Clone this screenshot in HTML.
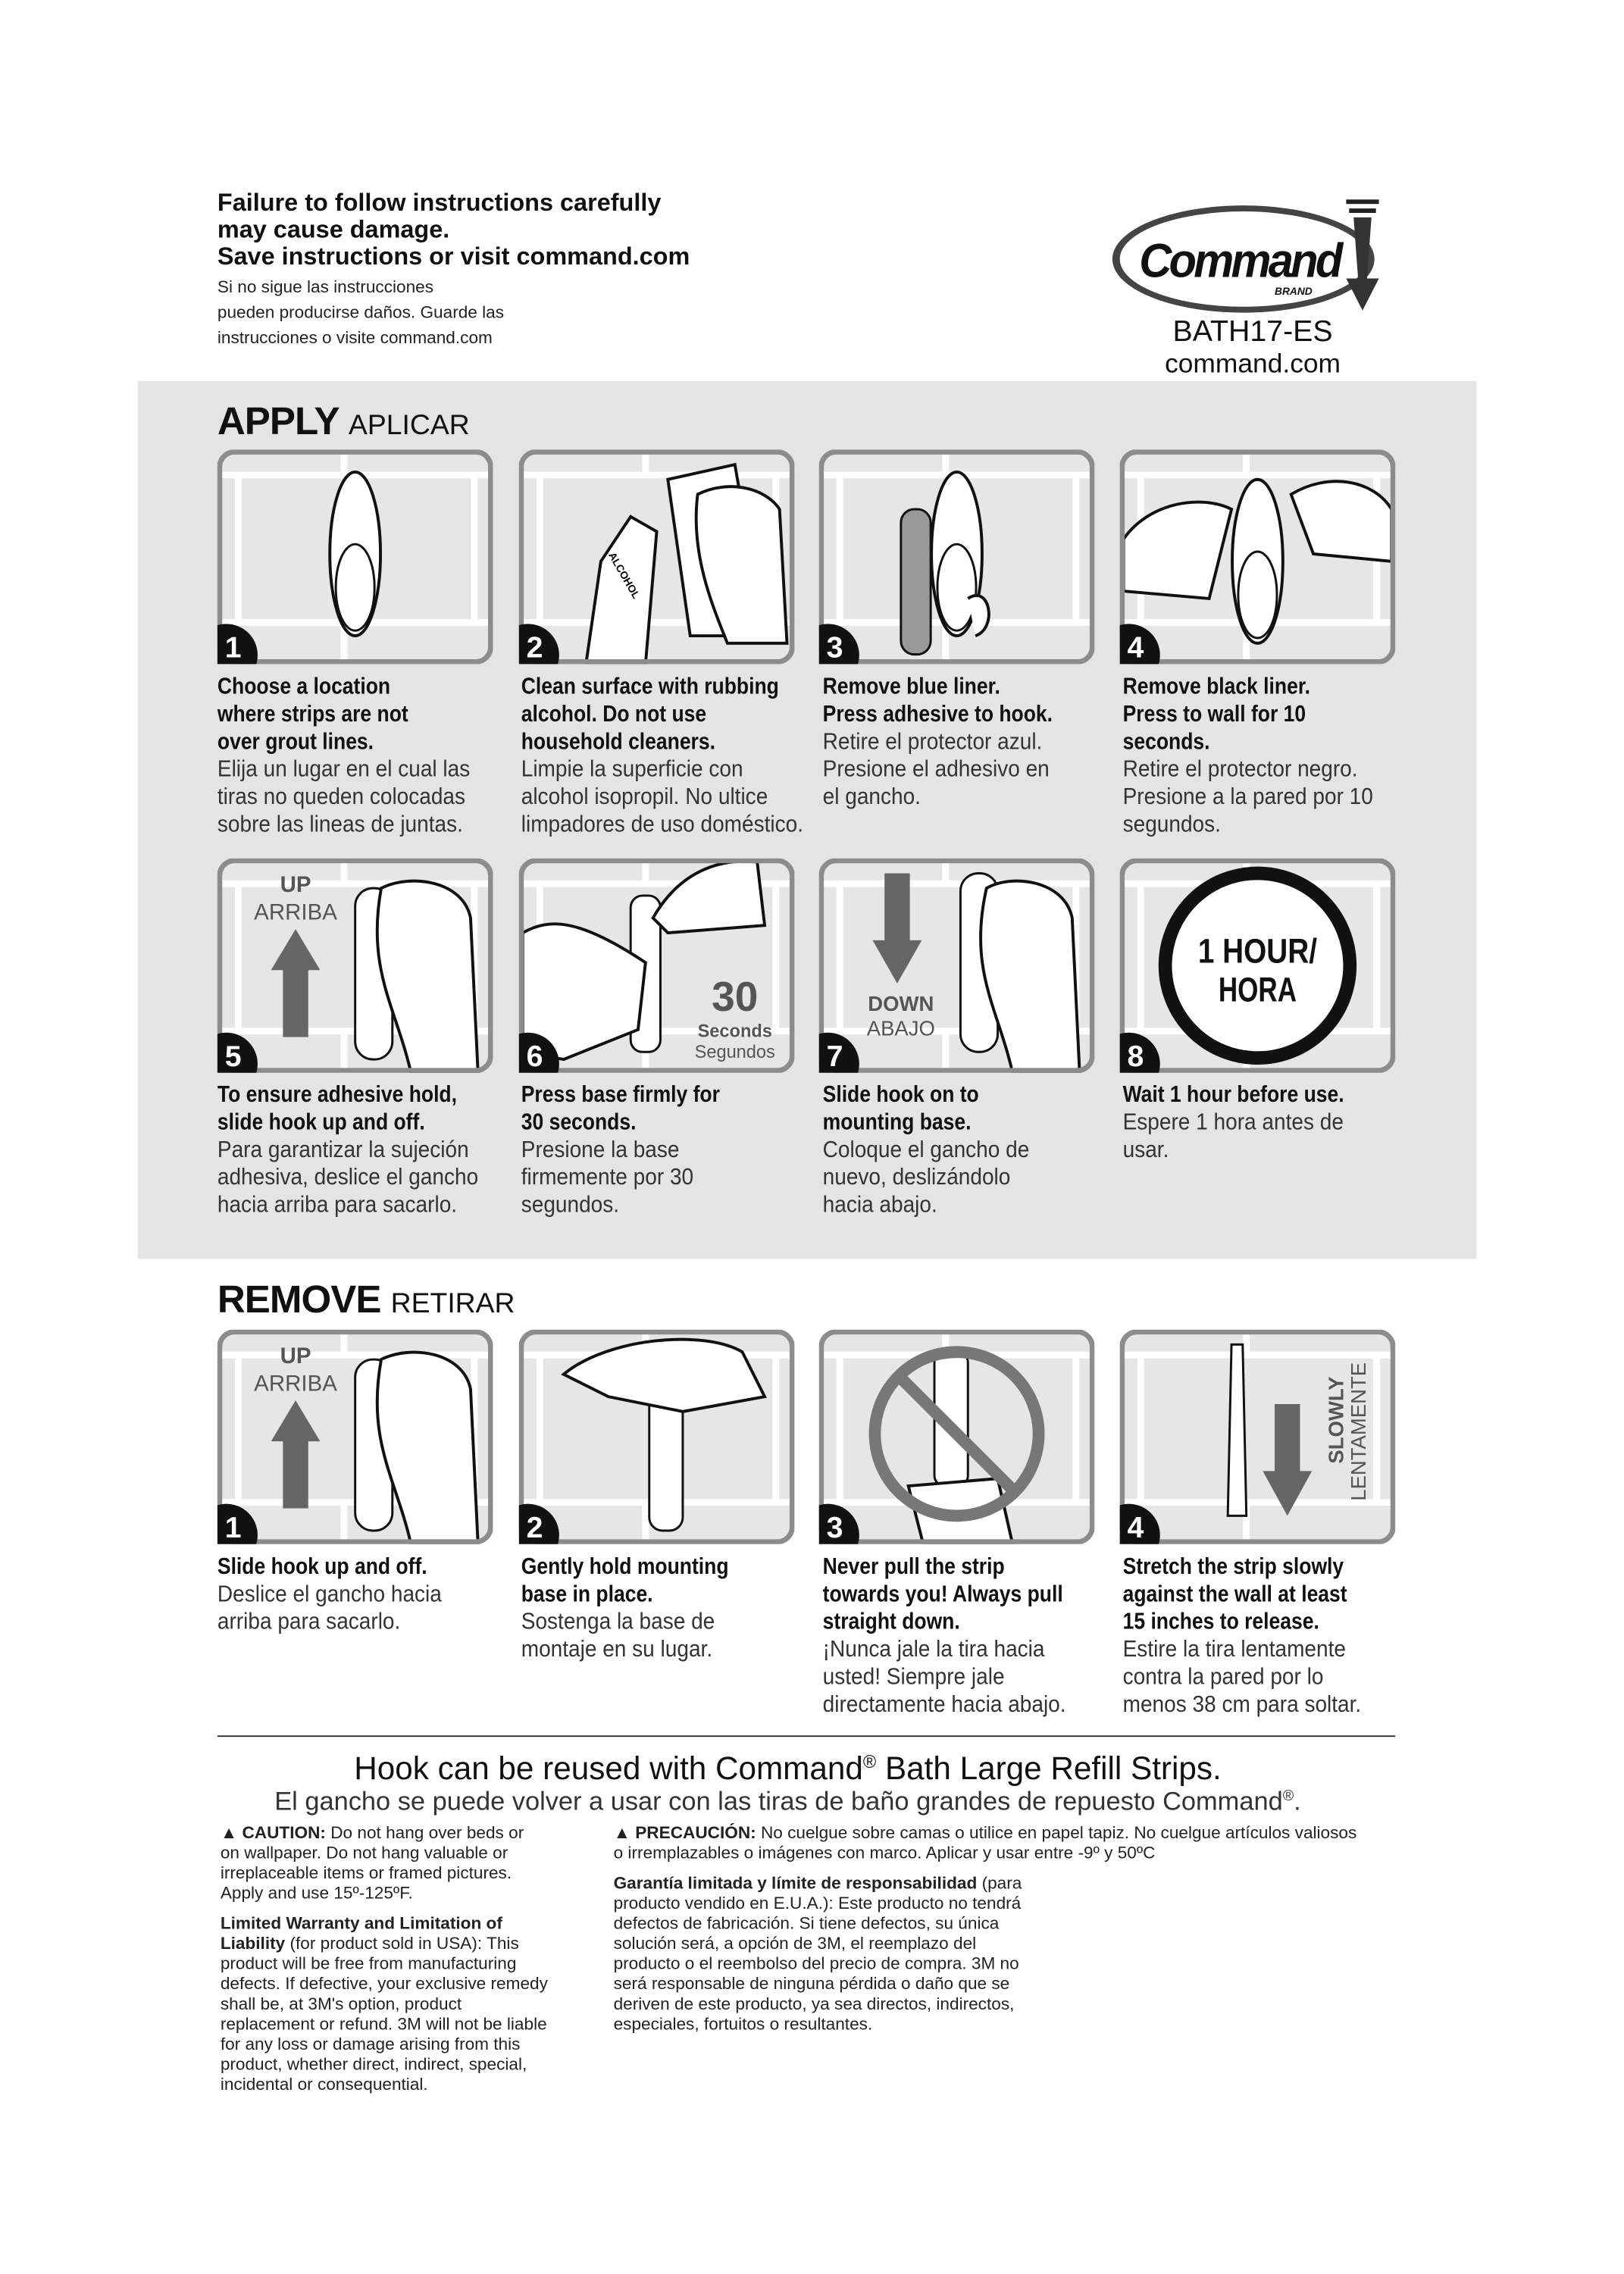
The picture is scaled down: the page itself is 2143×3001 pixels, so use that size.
<!DOCTYPE html>
<html><head><meta charset="utf-8"><style>
*{margin:0;padding:0;box-sizing:border-box}
body{width:2143px;height:3000px;background:#fff;position:relative;overflow:hidden;font-family:"Liberation Sans",sans-serif;color:#111}
#w{position:absolute;left:0;top:0;width:2181px;height:3054px;transform:scale(0.9825);transform-origin:0 0}
.a{position:absolute}
.hb{font-weight:bold;font-size:33px;line-height:36px}
.hs{font-size:23px;line-height:34px;color:#222}
.gray{left:185px;top:512px;width:1798px;height:1179px;background:#e4e4e4}
.h1{font-size:52px;font-weight:bold;letter-spacing:-1px}
.h1 span{font-weight:normal;font-size:38px;letter-spacing:0}
.p{width:370px;height:288px}
.t{width:500px;font-size:31px;line-height:37px;white-space:nowrap}
.t b{display:block;font-weight:bold;color:#111;transform:scaleX(0.87);transform-origin:0 0}
.t i{display:block;font-style:normal;color:#333;transform:scaleX(0.92);transform-origin:0 0}
.c{font-size:23px;line-height:27px;color:#222}
</style></head><body><div id="w">
<div class="a hb" style="left:292px;top:254px">Failure to follow instructions carefully<br>may cause damage.<br>Save instructions or visit command.com</div>
<div class="a hs" style="left:292px;top:368px">Si no sigue las instrucciones<br>pueden producirse daños. Guarde las<br>instrucciones o visite command.com</div>
<svg class="a" style="left:1490px;top:262px" width="380" height="170" viewBox="0 0 380 170">
<ellipse cx="180" cy="86" rx="176" ry="72" fill="#444"/><ellipse cx="180" cy="86" rx="166" ry="64" fill="#fff"/>
<text x="40" y="110" font-family="Liberation Sans" font-weight="bold" font-style="italic" font-size="64" fill="#111" letter-spacing="-4" textLength="270" lengthAdjust="spacingAndGlyphs">Command</text>
<text x="222" y="134" font-family="Liberation Sans" font-weight="bold" font-style="italic" font-size="14" fill="#111">BRAND</text>
<rect x="318" y="6" width="44" height="6" fill="#222"/><rect x="322" y="18" width="36" height="6" fill="#222"/>
<path d="M328 30 L352 30 L346 112 L362 112 L340 155 L318 112 L334 112 Z" fill="#333"/>
</svg>
<div class="a" style="left:1560px;top:424px;width:245px;text-align:center;font-size:40px;line-height:42px;color:#111">BATH17-ES<br><span style="font-size:36px">command.com</span></div>

<div class="a gray"></div>
<div class="a h1" style="left:292px;top:536px">APPLY <span>APLICAR</span></div>
<div class="a h1" style="left:292px;top:1716px">REMOVE <span>RETIRAR</span></div>

<svg width="0" height="0" style="position:absolute"><defs>
<g id="bg"><rect x="3" y="3" width="364" height="282" rx="20" fill="#e6e6e6"/>
<g stroke="#fff" stroke-width="9"><line x1="0" y1="34" x2="370" y2="34"/><line x1="0" y1="232" x2="370" y2="232"/><line x1="170" y1="0" x2="170" y2="34"/><line x1="28" y1="34" x2="28" y2="232"/><line x1="345" y1="34" x2="345" y2="232"/><line x1="170" y1="232" x2="170" y2="288"/></g></g>
<g id="fr"><rect x="3" y="3" width="364" height="282" rx="20" fill="none" stroke="#8c8c8c" stroke-width="7"/></g>
<g id="hook"><ellipse cx="0" cy="0" rx="34" ry="110" fill="#fff" stroke="#111" stroke-width="4"/><ellipse cx="0" cy="45" rx="26" ry="58" fill="none" stroke="#111" stroke-width="3"/></g>
<g id="hand"><path d="M0 0 C40 -20 90 -10 110 20 L120 200 L40 200 C20 150 -10 80 0 0Z" fill="#fff" stroke="#111" stroke-width="4"/></g>
</defs></svg>

<!-- row 1 -->
<svg class="a p" style="left:292px;top:604px"><use href="#bg"/><use href="#hook" x="185" y="140"/><use href="#fr"/><circle cx="12" cy="276" r="42" fill="#111"/><text x="10" y="279" fill="#fff" font-family="Liberation Sans" font-weight="bold" font-size="40">1</text></svg>
<svg class="a p" style="left:697px;top:604px"><use href="#bg"/><path d="M200 40 L290 20 L330 250 L230 250Z" fill="#fff" stroke="#111" stroke-width="4"/><path d="M110 150 L150 90 L185 110 L170 288 L90 288Z" fill="#fff" stroke="#111" stroke-width="4"/><text x="115" y="150" font-family="Liberation Sans" font-weight="bold" font-size="14" transform="rotate(60 125 150)">ALCOHOL</text><use href="#hand" x="240" y="60"/><use href="#fr"/><circle cx="12" cy="276" r="42" fill="#111"/><text x="10" y="279" fill="#fff" font-family="Liberation Sans" font-weight="bold" font-size="40">2</text></svg>
<svg class="a p" style="left:1100px;top:604px"><use href="#bg"/><rect x="110" y="80" width="40" height="195" rx="18" fill="#999" stroke="#111" stroke-width="3"/><use href="#hook" x="185" y="140"/><path d="M200 200 C230 180 240 240 210 250" fill="#fff" stroke="#111" stroke-width="4"/><use href="#fr"/><circle cx="12" cy="276" r="42" fill="#111"/><text x="10" y="279" fill="#fff" font-family="Liberation Sans" font-weight="bold" font-size="40">3</text></svg>
<svg class="a p" style="left:1504px;top:604px"><use href="#bg"/><use href="#hook" x="185" y="150"/><path d="M5 120 C40 70 110 60 150 80 L120 200 L5 190Z" fill="#fff" stroke="#111" stroke-width="4"/><path d="M230 60 C280 30 340 40 365 80 L365 150 L260 140Z" fill="#fff" stroke="#111" stroke-width="4"/><use href="#fr"/><circle cx="12" cy="276" r="42" fill="#111"/><text x="10" y="279" fill="#fff" font-family="Liberation Sans" font-weight="bold" font-size="40">4</text></svg>

<div class="a t" style="left:292px;top:903px"><b>Choose a location<br>where strips are not<br>over grout lines.</b><i>Elija un lugar en el cual las<br>tiras no queden colocadas<br>sobre las lineas de juntas.</i></div>
<div class="a t" style="left:700px;top:903px"><b>Clean surface with rubbing<br>alcohol. Do not use<br>household cleaners.</b><i>Limpie la superficie con<br>alcohol isopropil. No ultice<br>limpadores de uso doméstico.</i></div>
<div class="a t" style="left:1105px;top:903px"><b>Remove blue liner.<br>Press adhesive to hook.</b><i>Retire el protector azul.<br>Presione el adhesivo en<br>el gancho.</i></div>
<div class="a t" style="left:1508px;top:903px"><b>Remove black liner.<br>Press to wall for 10<br>seconds.</b><i>Retire el protector negro.<br>Presione a la pared por 10<br>segundos.</i></div>

<!-- row 2 -->
<svg class="a p" style="left:292px;top:1153px"><use href="#bg"/><text x="105" y="45" text-anchor="middle" font-family="Liberation Sans" font-weight="bold" font-size="30" fill="#555">UP</text><text x="105" y="82" text-anchor="middle" font-family="Liberation Sans" font-size="30" fill="#555">ARRIBA</text><path d="M88 240 L88 150 L72 150 L105 95 L138 150 L122 150 L122 240Z" fill="#666"/><rect x="185" y="40" width="50" height="230" rx="24" fill="#fff" stroke="#111" stroke-width="3"/><path d="M220 40 C260 20 330 30 340 80 L350 288 L260 288 C240 200 200 150 220 40Z" fill="#fff" stroke="#111" stroke-width="4"/><use href="#fr"/><circle cx="12" cy="276" r="42" fill="#111"/><text x="10" y="279" fill="#fff" font-family="Liberation Sans" font-weight="bold" font-size="40">5</text></svg>
<svg class="a p" style="left:697px;top:1153px"><use href="#bg"/><rect x="150" y="50" width="40" height="210" rx="16" fill="#fff" stroke="#111" stroke-width="3"/><path d="M5 100 C40 80 80 80 170 140 L160 230 L60 270 L5 260Z" fill="#fff" stroke="#111" stroke-width="4"/><path d="M180 80 C220 10 280 0 320 5 L330 90 L200 100Z" fill="#fff" stroke="#111" stroke-width="4"/><text x="290" y="205" text-anchor="middle" font-family="Liberation Sans" font-weight="bold" font-size="56" fill="#555">30</text><text x="290" y="240" text-anchor="middle" font-family="Liberation Sans" font-weight="bold" font-size="24" fill="#555">Seconds</text><text x="290" y="268" text-anchor="middle" font-family="Liberation Sans" font-size="24" fill="#555">Segundos</text><use href="#fr"/><circle cx="12" cy="276" r="42" fill="#111"/><text x="10" y="279" fill="#fff" font-family="Liberation Sans" font-weight="bold" font-size="40">6</text></svg>
<svg class="a p" style="left:1100px;top:1153px"><use href="#bg"/><path d="M88 20 L88 110 L72 110 L105 168 L138 110 L122 110 L122 20Z" fill="#666"/><text x="110" y="205" text-anchor="middle" font-family="Liberation Sans" font-weight="bold" font-size="28" fill="#555">DOWN</text><text x="110" y="238" text-anchor="middle" font-family="Liberation Sans" font-size="28" fill="#555">ABAJO</text><rect x="190" y="20" width="50" height="240" rx="24" fill="#fff" stroke="#111" stroke-width="3"/><path d="M225 40 C260 20 330 30 340 80 L350 288 L260 288 C240 200 200 150 225 40Z" fill="#fff" stroke="#111" stroke-width="4"/><use href="#fr"/><circle cx="12" cy="276" r="42" fill="#111"/><text x="10" y="279" fill="#fff" font-family="Liberation Sans" font-weight="bold" font-size="40">7</text></svg>
<svg class="a p" style="left:1504px;top:1153px"><use href="#bg"/><circle cx="185" cy="144" r="124" fill="#fff" stroke="#111" stroke-width="18"/><text x="185" y="140" text-anchor="middle" font-family="Liberation Sans" font-weight="bold" font-size="46" fill="#111" textLength="160" lengthAdjust="spacingAndGlyphs">1 HOUR/</text><text x="185" y="192" text-anchor="middle" font-family="Liberation Sans" font-weight="bold" font-size="46" fill="#111" textLength="105" lengthAdjust="spacingAndGlyphs">HORA</text><use href="#fr"/><circle cx="12" cy="276" r="42" fill="#111"/><text x="10" y="279" fill="#fff" font-family="Liberation Sans" font-weight="bold" font-size="40">8</text></svg>

<div class="a t" style="left:292px;top:1451px"><b>To ensure adhesive hold,<br>slide hook up and off.</b><i>Para garantizar la sujeción<br>adhesiva, deslice el gancho<br>hacia arriba para sacarlo.</i></div>
<div class="a t" style="left:700px;top:1451px"><b>Press base firmly for<br>30 seconds.</b><i>Presione la base<br>firmemente por 30<br>segundos.</i></div>
<div class="a t" style="left:1105px;top:1451px"><b>Slide hook on to<br>mounting base.</b><i>Coloque el gancho de<br>nuevo, deslizándolo<br>hacia abajo.</i></div>
<div class="a t" style="left:1508px;top:1451px"><b>Wait 1 hour before use.</b><i>Espere 1 hora antes de<br>usar.</i></div>

<!-- row 3 -->
<svg class="a p" style="left:292px;top:1786px"><use href="#bg"/><text x="105" y="45" text-anchor="middle" font-family="Liberation Sans" font-weight="bold" font-size="30" fill="#555">UP</text><text x="105" y="82" text-anchor="middle" font-family="Liberation Sans" font-size="30" fill="#555">ARRIBA</text><path d="M88 240 L88 150 L72 150 L105 95 L138 150 L122 150 L122 240Z" fill="#666"/><rect x="185" y="40" width="50" height="230" rx="24" fill="#fff" stroke="#111" stroke-width="3"/><path d="M220 40 C260 20 330 30 340 80 L350 288 L260 288 C240 200 200 150 220 40Z" fill="#fff" stroke="#111" stroke-width="4"/><use href="#fr"/><circle cx="12" cy="276" r="42" fill="#111"/><text x="10" y="279" fill="#fff" font-family="Liberation Sans" font-weight="bold" font-size="40">1</text></svg>
<svg class="a p" style="left:697px;top:1786px"><use href="#bg"/><rect x="175" y="70" width="45" height="200" rx="18" fill="#fff" stroke="#111" stroke-width="3"/><path d="M60 60 C120 10 250 0 300 30 L330 90 L220 110 L120 90Z" fill="#fff" stroke="#111" stroke-width="4"/><use href="#fr"/><circle cx="12" cy="276" r="42" fill="#111"/><text x="10" y="279" fill="#fff" font-family="Liberation Sans" font-weight="bold" font-size="40">2</text></svg>
<svg class="a p" style="left:1100px;top:1786px"><use href="#bg"/><rect x="155" y="30" width="45" height="180" rx="14" fill="#fff" stroke="#111" stroke-width="3"/><path d="M120 210 L240 200 L260 288 L140 288Z" fill="#fff" stroke="#111" stroke-width="4"/><circle cx="185" cy="140" r="110" fill="none" stroke="#777" stroke-width="16"/><line x1="108" y1="63" x2="262" y2="217" stroke="#777" stroke-width="16"/><use href="#fr"/><circle cx="12" cy="276" r="42" fill="#111"/><text x="10" y="279" fill="#fff" font-family="Liberation Sans" font-weight="bold" font-size="40">3</text></svg>
<svg class="a p" style="left:1504px;top:1786px"><use href="#bg"/><path d="M150 20 L165 20 L170 250 L145 250Z" fill="#fff" stroke="#111" stroke-width="3"/><path d="M208 100 L208 190 L192 190 L225 250 L258 190 L242 190 L242 100Z" fill="#666"/><text transform="rotate(-90)" x="-180" y="300" font-family="Liberation Sans" font-weight="bold" font-size="28" fill="#555">SLOWLY</text><text transform="rotate(-90)" x="-230" y="330" font-family="Liberation Sans" font-size="28" fill="#555">LENTAMENTE</text><use href="#fr"/><circle cx="12" cy="276" r="42" fill="#111"/><text x="10" y="279" fill="#fff" font-family="Liberation Sans" font-weight="bold" font-size="40">4</text></svg>

<div class="a t" style="left:292px;top:2085px"><b>Slide hook up and off.</b><i>Deslice el gancho hacia<br>arriba para sacarlo.</i></div>
<div class="a t" style="left:700px;top:2085px"><b>Gently hold mounting<br>base in place.</b><i>Sostenga la base de<br>montaje en su lugar.</i></div>
<div class="a t" style="left:1105px;top:2085px"><b>Never pull the strip<br>towards you! Always pull<br>straight down.</b><i>¡Nunca jale la tira hacia<br>usted! Siempre jale<br>directamente hacia abajo.</i></div>
<div class="a t" style="left:1508px;top:2085px"><b>Stretch the strip slowly<br>against the wall at least<br>15 inches to release.</b><i>Estire la tira lentamente<br>contra la pared por lo<br>menos 38 cm para soltar.</i></div>

<div class="a" style="left:292px;top:2331px;width:1582px;height:2px;background:#333"></div>
<div class="a" style="left:0;top:2352px;width:2116px;text-align:center;font-size:43px;color:#111">Hook can be reused with Command<sup style="font-size:24px">®</sup> Bath Large Refill Strips.</div>
<div class="a" style="left:0;top:2400px;width:2116px;text-align:center;font-size:35px;color:#333">El gancho se puede volver a usar con las tiras de baño grandes de repuesto Command<sup style="font-size:20px">®</sup>.</div>

<div class="a c" style="left:296px;top:2448px;width:500px">▲ <b>CAUTION:</b> Do not hang over beds or<br>on wallpaper. Do not hang valuable or<br>irreplaceable items or framed pictures.<br>Apply and use 15º-125ºF.<br><div style="height:14px"></div><b>Limited Warranty and Limitation of<br>Liability</b> (for product sold in USA): This<br>product will be free from manufacturing<br>defects. If defective, your exclusive remedy<br>shall be, at 3M's option, product<br>replacement or refund. 3M will not be liable<br>for any loss or damage arising from this<br>product, whether direct, indirect, special,<br>incidental or consequential.</div>
<div class="a c" style="left:824px;top:2448px;width:1100px">▲ <b>PRECAUCIÓN:</b> No cuelgue sobre camas o utilice en papel tapiz. No cuelgue artículos valiosos<br>o irremplazables o imágenes con marco. Aplicar y usar entre -9º y 50ºC<br><div style="height:14px"></div><b>Garantía limitada y límite de responsabilidad</b> (para<br>producto vendido en E.U.A.): Este producto no tendrá<br>defectos de fabricación. Si tiene defectos, su única<br>solución será, a opción de 3M, el reemplazo del<br>producto o el reembolso del precio de compra. 3M no<br>será responsable de ninguna pérdida o daño que se<br>deriven de este producto, ya sea directos, indirectos,<br>especiales, fortuitos o resultantes.</div>
</div></body></html>
